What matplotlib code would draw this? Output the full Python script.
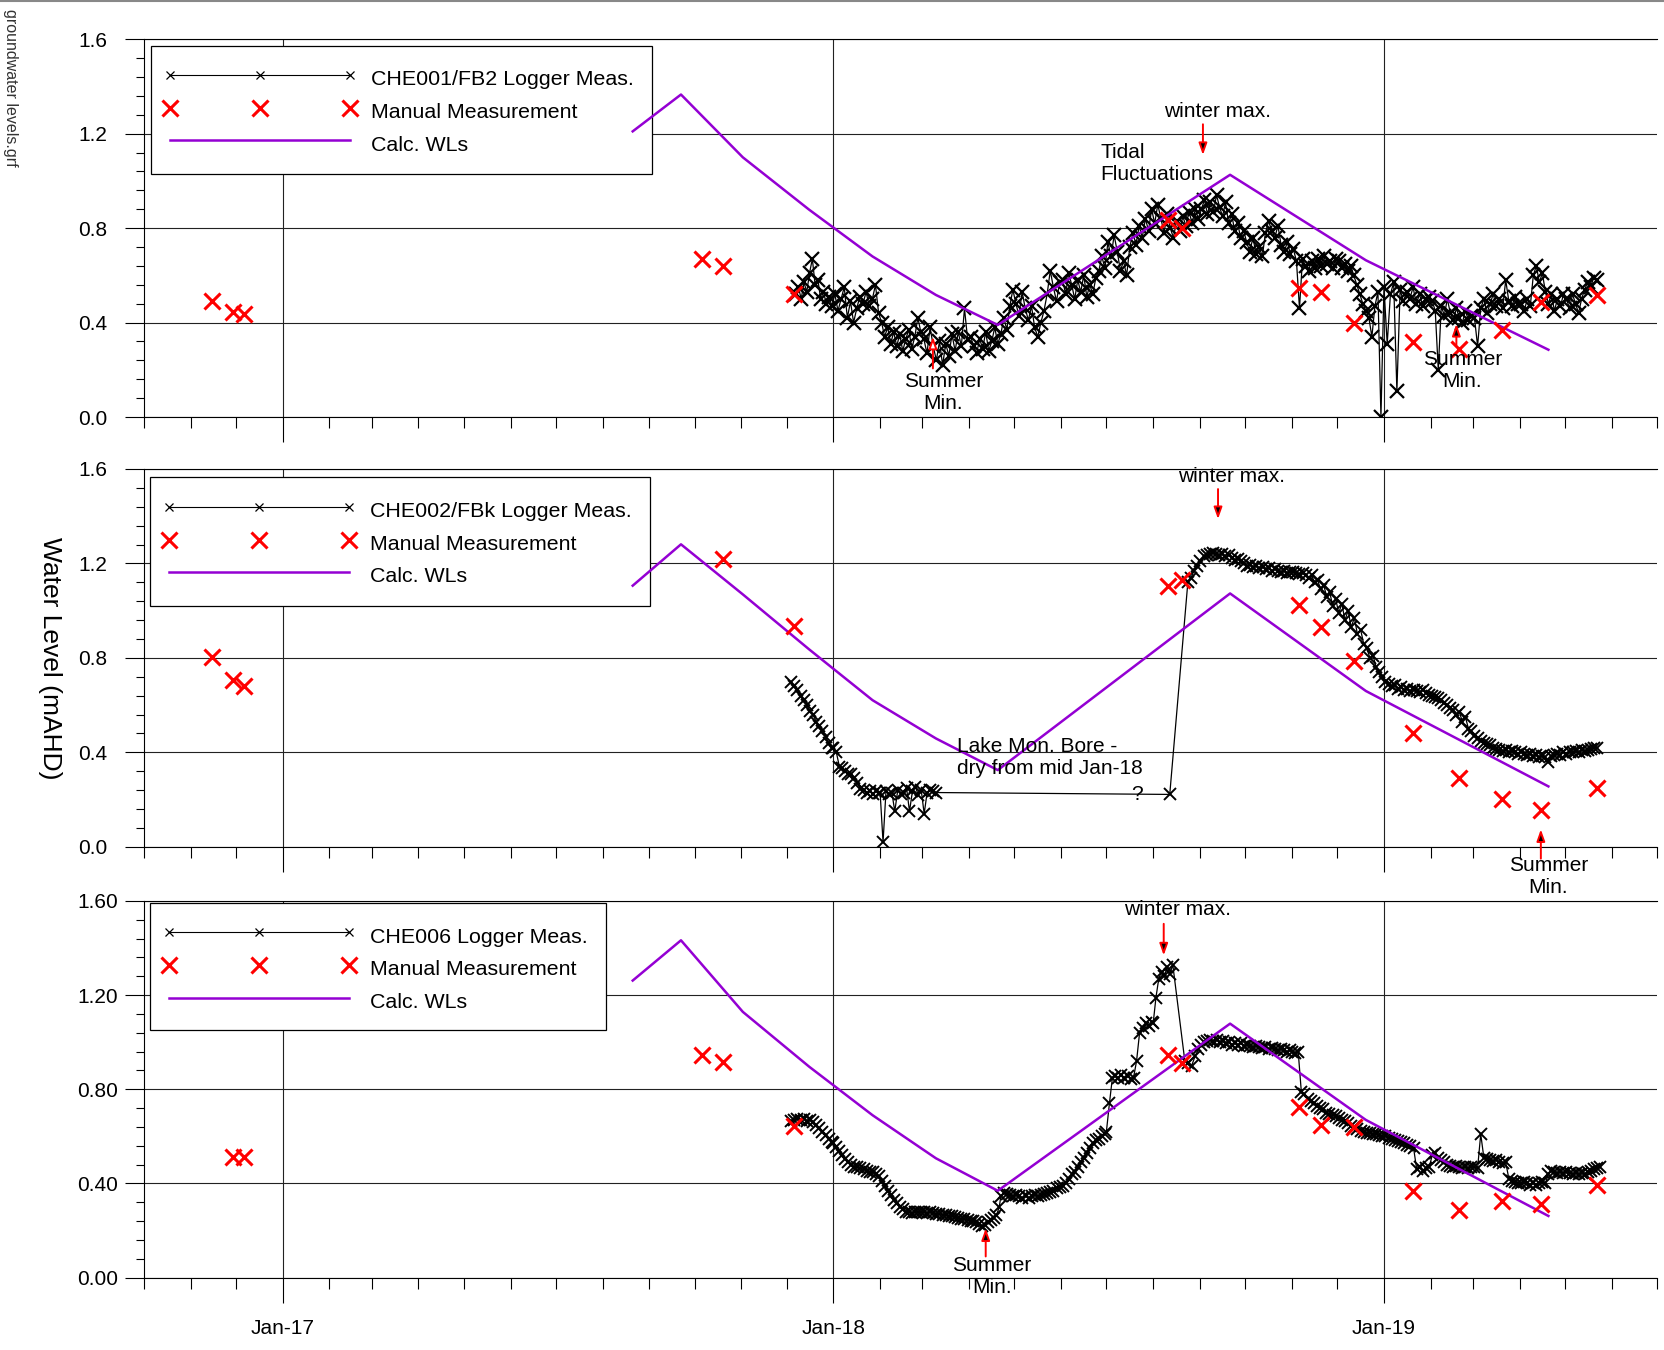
import numpy as np
import pandas as pd
import matplotlib
matplotlib.use("Agg")
import matplotlib.pyplot as plt
import matplotlib.dates as mdates
from matplotlib.ticker import MultipleLocator, FormatStrFormatter
from matplotlib.lines import Line2D
from matplotlib.patches import Rectangle

plt.rcParams['font.family'] = ['Liberation Sans', 'DejaVu Sans']

# ---------------- data ----------------
man_dates = ['2016-11-15', '2016-11-29', '2016-12-06', '2017-10-06', '2017-10-20',
             '2017-12-06', '2018-08-11', '2018-08-20', '2018-11-06', '2018-11-20',
             '2018-12-12', '2019-01-20', '2019-02-20', '2019-03-20', '2019-04-15',
             '2019-05-22']
man_top = [0.49, 0.445, 0.436, 0.67, 0.638, 0.521, 0.836, 0.80, 0.545, 0.528,
           0.40, 0.317, 0.29, 0.369, 0.489, 0.517]
man_mid = [0.805, 0.706, 0.683, None, 1.218, 0.935, 1.106, 1.131, 1.025, 0.933,
           0.785, 0.481, 0.291, 0.202, 0.157, 0.248]
man_bot = [None, 0.514, 0.514, 0.946, 0.915, 0.644, 0.945, 0.912, 0.726, 0.648,
           0.641, 0.369, 0.287, 0.327, 0.313, 0.393]

calc_dates = ['2017-08-21', '2017-09-22', '2017-11-02', '2017-12-16', '2018-01-27',
              '2018-03-10', '2018-04-20', '2018-09-21', '2018-12-20', '2019-04-20']
calc_top = [1.21, 1.366, 1.10, 0.878, 0.68, 0.517, 0.39, 1.026, 0.664, 0.285]
calc_mid = [1.106, 1.281, 1.069, 0.836, 0.621, 0.459, 0.325, 1.073, 0.66, 0.256]
calc_bot = [1.262, 1.433, 1.129, 0.896, 0.69, 0.507, 0.369, 1.079, 0.67, 0.262]

# logger readings, (first day, last day, values) per stretch
log_top = [
    ('2017-12-07', '2017-12-31', [0.52, 0.55, 0.50, 0.57, 0.53, 0.61, 0.67, 0.56, 0.58, 0.50, 0.53, 0.48, 0.51, 0.47]),
    ('2018-01-02', '2018-01-31', [0.52, 0.45, 0.50, 0.55, 0.42, 0.49, 0.40, 0.46, 0.51, 0.48, 0.53, 0.47, 0.50, 0.56, 0.44]),
    ('2018-02-02', '2018-02-28', [0.40, 0.34, 0.38, 0.31, 0.36, 0.30, 0.35, 0.28, 0.33, 0.37, 0.29, 0.34, 0.42, 0.36]),
    ('2018-03-02', '2018-03-31', [0.33, 0.27, 0.38, 0.30, 0.24, 0.32, 0.22, 0.31, 0.26, 0.35, 0.28, 0.36, 0.30, 0.46, 0.33]),
    ('2018-04-02', '2018-04-30', [0.34, 0.30, 0.27, 0.33, 0.29, 0.36, 0.28, 0.32, 0.38, 0.31, 0.35, 0.42, 0.37, 0.47, 0.54]),
    ('2018-05-02', '2018-05-31', [0.48, 0.43, 0.53, 0.46, 0.41, 0.47, 0.38, 0.34, 0.40, 0.45, 0.52, 0.62, 0.55, 0.49, 0.57]),
    ('2018-06-02', '2018-06-30', [0.58, 0.52, 0.61, 0.56, 0.50, 0.58, 0.53, 0.60, 0.51, 0.56, 0.52, 0.59, 0.62, 0.68, 0.63]),
    ('2018-07-02', '2018-07-31', [0.74, 0.68, 0.77, 0.70, 0.62, 0.66, 0.60, 0.72, 0.78, 0.73, 0.81, 0.76, 0.84, 0.79, 0.88]),
    ('2018-08-02', '2018-08-31', [0.82, 0.90, 0.84, 0.78, 0.86, 0.80, 0.76, 0.83, 0.79, 0.85, 0.81, 0.87, 0.82, 0.88, 0.84]),
    ('2018-09-02', '2018-09-30', [0.88, 0.92, 0.86, 0.91, 0.87, 0.94, 0.89, 0.85, 0.91, 0.82, 0.86, 0.79, 0.82, 0.76, 0.79]),
    ('2018-10-02', '2018-10-31', [0.74, 0.70, 0.76, 0.69, 0.72, 0.68, 0.78, 0.83, 0.79, 0.76, 0.81, 0.73, 0.70, 0.74, 0.69]),
    ('2018-11-02', '2018-11-30', [0.71, 0.66, 0.46, 0.67, 0.64, 0.62, 0.66, 0.63, 0.67, 0.64, 0.68, 0.65, 0.66, 0.63, 0.67]),
    ('2018-12-02', '2018-12-30', [0.66, 0.63, 0.65, 0.62, 0.64, 0.60, 0.56, 0.52, 0.48, 0.45, 0.42, 0.34, 0.47, 0.53, 0.00]),
    ('2019-01-01', '2019-01-31', [0.55, 0.31, 0.52, 0.57, 0.11, 0.54, 0.49, 0.53, 0.50, 0.55, 0.48, 0.52, 0.47, 0.50, 0.51]),
    ('2019-02-02', '2019-02-28', [0.49, 0.45, 0.20, 0.47, 0.43, 0.50, 0.44, 0.41, 0.46, 0.42, 0.40, 0.45, 0.41, 0.43]),
    ('2019-03-02', '2019-03-31', [0.42, 0.30, 0.46, 0.50, 0.44, 0.48, 0.52, 0.47, 0.50, 0.46, 0.58, 0.49, 0.47, 0.51, 0.48]),
    ('2019-04-02', '2019-04-30', [0.48, 0.45, 0.50, 0.47, 0.60, 0.64, 0.57, 0.61, 0.53, 0.48, 0.52, 0.45, 0.50, 0.47, 0.52]),
    ('2019-05-02', '2019-05-22', [0.50, 0.46, 0.52, 0.48, 0.44, 0.50, 0.54, 0.57, 0.55, 0.59, 0.58]),
]

log_mid = [
    ('2017-12-04', '2017-12-31', [0.70, 0.68, 0.665, 0.64, 0.62, 0.60, 0.575, 0.56, 0.53, 0.51, 0.49, 0.465, 0.44, 0.42]),
    ('2018-01-01', '2018-01-31', [0.42, 0.40, 0.34, 0.335, 0.32, 0.31, 0.31, 0.29, 0.27, 0.245, 0.24, 0.23, 0.235, 0.225, 0.235, 0.23]),
    ('2018-02-01', '2018-03-10', [0.23, 0.02, 0.235, 0.225, 0.23, 0.15, 0.24, 0.225, 0.23, 0.25, 0.15, 0.235, 0.255, 0.22, 0.24, 0.14, 0.23, 0.24, 0.235, 0.23]),
    ('2018-08-12', '2018-08-12', [0.222]),
    ('2018-08-24', '2018-09-20', [1.12, 1.14, 1.17, 1.19, 1.21, 1.23, 1.235, 1.24, 1.245, 1.24, 1.235, 1.24, 1.23, 1.235]),
    ('2018-09-22', '2018-10-31', [1.225, 1.215, 1.22, 1.21, 1.20, 1.19, 1.195, 1.185, 1.19, 1.18, 1.185, 1.175, 1.18, 1.17, 1.175, 1.17, 1.165, 1.17, 1.16, 1.165]),
    ('2018-11-02', '2018-11-30', [1.165, 1.16, 1.155, 1.16, 1.15, 1.14, 1.15, 1.12, 1.13, 1.09, 1.11, 1.06, 1.08, 1.02, 1.05]),
    ('2018-12-02', '2018-12-31', [0.99, 1.03, 0.96, 1.00, 0.93, 0.97, 0.90, 0.92, 0.86, 0.84, 0.80, 0.81, 0.76, 0.74, 0.72]),
    ('2019-01-02', '2019-01-31', [0.70, 0.69, 0.68, 0.685, 0.67, 0.675, 0.665, 0.67, 0.66, 0.665, 0.66, 0.655, 0.665, 0.65, 0.645]),
    ('2019-02-02', '2019-02-28', [0.64, 0.635, 0.63, 0.62, 0.61, 0.60, 0.59, 0.58, 0.56, 0.57, 0.53, 0.55, 0.50, 0.49]),
    ('2019-03-02', '2019-03-31', [0.47, 0.46, 0.45, 0.44, 0.435, 0.43, 0.42, 0.415, 0.41, 0.405, 0.41, 0.40, 0.405, 0.40, 0.395]),
    ('2019-04-02', '2019-04-30', [0.40, 0.395, 0.39, 0.395, 0.385, 0.39, 0.38, 0.385, 0.38, 0.36, 0.385, 0.39, 0.395, 0.39, 0.40]),
    ('2019-05-02', '2019-05-22', [0.395, 0.40, 0.40, 0.405, 0.40, 0.41, 0.405, 0.41, 0.415, 0.42, 0.42]),
]

log_bot = [
    ('2017-12-04', '2017-12-31', [0.665, 0.67, 0.675, 0.67, 0.675, 0.665, 0.67, 0.66, 0.65, 0.635, 0.62, 0.605, 0.59, 0.575]),
    ('2018-01-01', '2018-01-31', [0.57, 0.555, 0.54, 0.52, 0.505, 0.49, 0.478, 0.47, 0.468, 0.465, 0.46, 0.455, 0.45, 0.447, 0.44, 0.43]),
    ('2018-02-02', '2018-02-28', [0.41, 0.39, 0.37, 0.35, 0.33, 0.315, 0.30, 0.29, 0.28, 0.278, 0.276, 0.278, 0.28, 0.278]),
    ('2018-03-02', '2018-03-31', [0.278, 0.276, 0.278, 0.275, 0.272, 0.27, 0.268, 0.265, 0.262, 0.26, 0.258, 0.255, 0.25, 0.248, 0.245]),
    ('2018-04-02', '2018-04-21', [0.242, 0.24, 0.235, 0.228, 0.22, 0.225, 0.235, 0.245, 0.255, 0.265, 0.30]),
    ('2018-04-22', '2018-05-31', [0.345, 0.36, 0.355, 0.35, 0.345, 0.35, 0.345, 0.34, 0.345, 0.34, 0.345, 0.35, 0.345, 0.35, 0.355, 0.36, 0.365, 0.37, 0.38, 0.385]),
    ('2018-06-02', '2018-06-30', [0.39, 0.40, 0.42, 0.44, 0.45, 0.47, 0.49, 0.51, 0.53, 0.55, 0.57, 0.585, 0.59, 0.60, 0.61]),
    ('2018-07-01', '2018-07-31', [0.62, 0.74, 0.85, 0.855, 0.85, 0.86, 0.85, 0.855, 0.845, 0.85, 0.92, 1.04, 1.06, 1.08, 1.07, 1.085]),
    ('2018-08-01', '2018-08-14', [1.08, 1.19, 1.27, 1.30, 1.28, 1.32, 1.29, 1.33]),
    ('2018-08-22', '2018-08-31', [0.92, 0.91, 0.90, 0.94, 0.97]),
    ('2018-09-02', '2018-09-30', [0.99, 1.00, 1.005, 1.01, 1.005, 1.01, 1.00, 1.005, 0.995, 1.0, 0.99, 0.995, 0.99, 0.995, 0.985]),
    ('2018-10-02', '2018-10-31', [0.99, 0.985, 0.98, 0.985, 0.98, 0.975, 0.98, 0.97, 0.975, 0.97, 0.965, 0.97, 0.965, 0.96, 0.965]),
    ('2018-11-01', '2018-11-30', [0.96, 0.955, 0.96, 0.79, 0.78, 0.76, 0.75, 0.74, 0.73, 0.72, 0.715, 0.70, 0.695, 0.69, 0.685]),
    ('2018-12-02', '2018-12-31', [0.68, 0.67, 0.665, 0.655, 0.645, 0.64, 0.63, 0.625, 0.62, 0.615, 0.615, 0.61, 0.61, 0.605, 0.60]),
    ('2019-01-02', '2019-01-31', [0.60, 0.595, 0.59, 0.585, 0.58, 0.575, 0.57, 0.565, 0.56, 0.55, 0.46, 0.47, 0.455, 0.465, 0.47]),
    ('2019-02-02', '2019-02-28', [0.52, 0.53, 0.51, 0.50, 0.49, 0.48, 0.475, 0.47, 0.475, 0.47, 0.465, 0.47, 0.465, 0.47]),
    ('2019-03-02', '2019-03-31', [0.47, 0.465, 0.61, 0.51, 0.505, 0.50, 0.495, 0.50, 0.49, 0.485, 0.49, 0.42, 0.41, 0.405, 0.40]),
    ('2019-04-02', '2019-04-30', [0.40, 0.405, 0.40, 0.395, 0.40, 0.395, 0.40, 0.405, 0.40, 0.44, 0.455, 0.45, 0.445, 0.45, 0.445]),
    ('2019-05-02', '2019-05-24', [0.45, 0.445, 0.44, 0.445, 0.44, 0.445, 0.44, 0.45, 0.455, 0.46, 0.465, 0.47]),
]

names = ['CHE001/FB2 Logger Meas.', 'CHE002/FBk Logger Meas.', 'CHE006 Logger Meas.']


def series(chunks):
    d, v = [], []
    for start, end, vals in chunks:
        d.extend(pd.date_range(start, end, periods=len(vals)))
        v.extend(vals)
    return d, v


def manual(vals):
    d = [pd.Timestamp(t) for t, y in zip(man_dates, vals) if y is not None]
    return d, [y for y in vals if y is not None]


PURPLE = '#9400D3'
RED = '#ff0000'
FS = 15
LFS = 15.4
T = pd.Timestamp

fig = plt.figure(figsize=(16.64, 13.5), dpi=100)
boxes = [[0.0865, 0.6911, 0.9093, 0.2798],
         [0.0865, 0.3727, 0.9093, 0.2799],
         [0.0865, 0.0536, 0.9093, 0.2790]]
# legend frame (x0, y0, x1, y1) and content anchor, axes fraction
frames = [(0.0044, 0.6434, 0.3356, 0.9833),
          (0.0037, 0.6374, 0.3342, 0.9775),
          (0.0037, 0.6565, 0.3054, 0.9947)]
anchors = [(0.0128, 0.9328), (0.0121, 0.927), (0.0121, 0.9437)]
msize = [(9.5, 1.6), (8, 1.4), (8, 1.4)]
axes = []
for i, (logd, man, calc) in enumerate(zip([log_top, log_mid, log_bot],
                                          [man_top, man_mid, man_bot],
                                          [calc_top, calc_mid, calc_bot])):
    ax = fig.add_axes(boxes[i])
    ax.set_facecolor('none')
    d, v = series(logd)
    ax.plot(d, v, '-', color='black', lw=0.9, marker='x', ms=msize[i][0],
            mew=msize[i][1], zorder=3)
    md, mv = manual(man)
    ax.plot(md, mv, ls='none', marker='x', color=RED, ms=11, mew=2.2, zorder=5)
    ax.plot([T(t) for t in calc_dates], calc, '-', color=PURPLE, lw=1.8, zorder=4)

    ax.set_xlim(T('2016-10-01'), T('2019-07-01'))
    ax.set_ylim(0, 1.6)
    ax.xaxis.set_major_locator(mdates.MonthLocator(bymonth=1))
    ax.xaxis.set_minor_locator(mdates.MonthLocator())
    ax.xaxis.set_major_formatter(mdates.DateFormatter('%b-%y'))
    ax.yaxis.set_major_locator(MultipleLocator(0.4))
    ax.yaxis.set_minor_locator(MultipleLocator(0.08))
    ax.yaxis.set_major_formatter(FormatStrFormatter('%.2f' if i == 2 else '%.1f'))
    ax.grid(True, which='major', color='#222222', lw=0.8)
    ax.tick_params(axis='x', which='major', direction='out', length=18, width=0.8,
                   pad=12, labelsize=FS, labelbottom=(i == 2))
    ax.tick_params(axis='x', which='minor', direction='out', length=8, width=0.8)
    ax.tick_params(axis='y', which='major', direction='out', length=13.5, width=0.8,
                   pad=5 if i == 2 else 13, labelsize=FS)
    ax.tick_params(axis='y', which='minor', direction='out', length=5.5, width=0.8)
    ax.spines['right'].set_visible(False)
    for s in ['left', 'bottom', 'top']:
        ax.spines[s].set_linewidth(0.8)

    # legend: box drawn under the data, key entries on top of it
    x0, y0, x1, y1 = frames[i]
    ax.add_patch(Rectangle((x0, y0), x1 - x0, y1 - y0, transform=ax.transAxes,
                           fc='white', ec='black', lw=0.9, zorder=2))
    handles = [Line2D([], [], color='black', lw=0.8, marker='x', ms=6, mew=0.9),
               Line2D([], [], ls='none', marker='x', color=RED, ms=11, mew=2.2),
               Line2D([], [], color=PURPLE, lw=1.8)]
    leg = ax.legend(handles, [names[i], 'Manual Measurement', 'Calc. WLs'],
                    loc='upper left', bbox_to_anchor=anchors[i], borderaxespad=0,
                    fontsize=LFS, numpoints=3, handlelength=9.03, handletextpad=0.69,
                    handleheight=1.56, borderpad=0, labelspacing=0.27,
                    frameon=False)
    leg.set_zorder(2.1)
    axes.append(ax)


def arrow(ax, date, y0, y1, fc='black'):
    ax.annotate('', xy=(T(date), y1), xytext=(T(date), y0), annotation_clip=False,
                arrowprops=dict(arrowstyle='-|>,head_length=0.7,head_width=0.25',
                                fc=fc, ec='red', lw=1.4, shrinkA=0, shrinkB=0))


def label(ax, date, y, s, ha='center'):
    ax.text(T(date), y, s, ha=ha, va='center', fontsize=FS, multialignment=ha,
            clip_on=False, zorder=6)


a1, a2, a3 = axes
label(a1, '2018-09-13', 1.295, 'winter max.')
arrow(a1, '2018-09-03', 1.24, 1.11)
label(a1, '2018-06-27', 1.072, 'Tidal\nFluctuations', ha='left')
label(a1, '2018-03-15', 0.105, 'Summer\nMin.')
arrow(a1, '2018-03-08', 0.206, 0.34, fc='white')
label(a1, '2019-02-22', 0.195, 'Summer\nMin.')
arrow(a1, '2019-02-18', 0.305, 0.394)

label(a2, '2018-09-22', 1.568, 'winter max.')
arrow(a2, '2018-09-13', 1.515, 1.388)
label(a2, '2018-03-24', 0.38, 'Lake Mon. Bore -\ndry from mid Jan-18', ha='left')
label(a2, '2018-07-21', 0.22, '?')
label(a2, '2019-04-20', -0.125, 'Summer\nMin.')
arrow(a2, '2019-04-15', -0.05, 0.074)

label(a3, '2018-08-17', 1.5626, 'winter max.')
arrow(a3, '2018-08-08', 1.503, 1.369)
label(a3, '2018-04-16', 0.005, 'Summer\nMin.')
arrow(a3, '2018-04-12', 0.09, 0.209)

fig.text(50 / 1664, 1 - 658 / 1350, 'Water Level (mAHD)', rotation=270,
         ha='center', va='center', fontsize=19)
fig.text(10.6 / 1664, 1 - 87.5 / 1350, 'groundwater levels.grf', rotation=270,
         ha='center', va='center', fontsize=11.5, color='#333333')
fig.add_artist(Line2D([0, 1], [0.9993, 0.9993], color='#888888', lw=1.5,
                      transform=fig.transFigure))

fig.savefig('out.png', dpi=100)
